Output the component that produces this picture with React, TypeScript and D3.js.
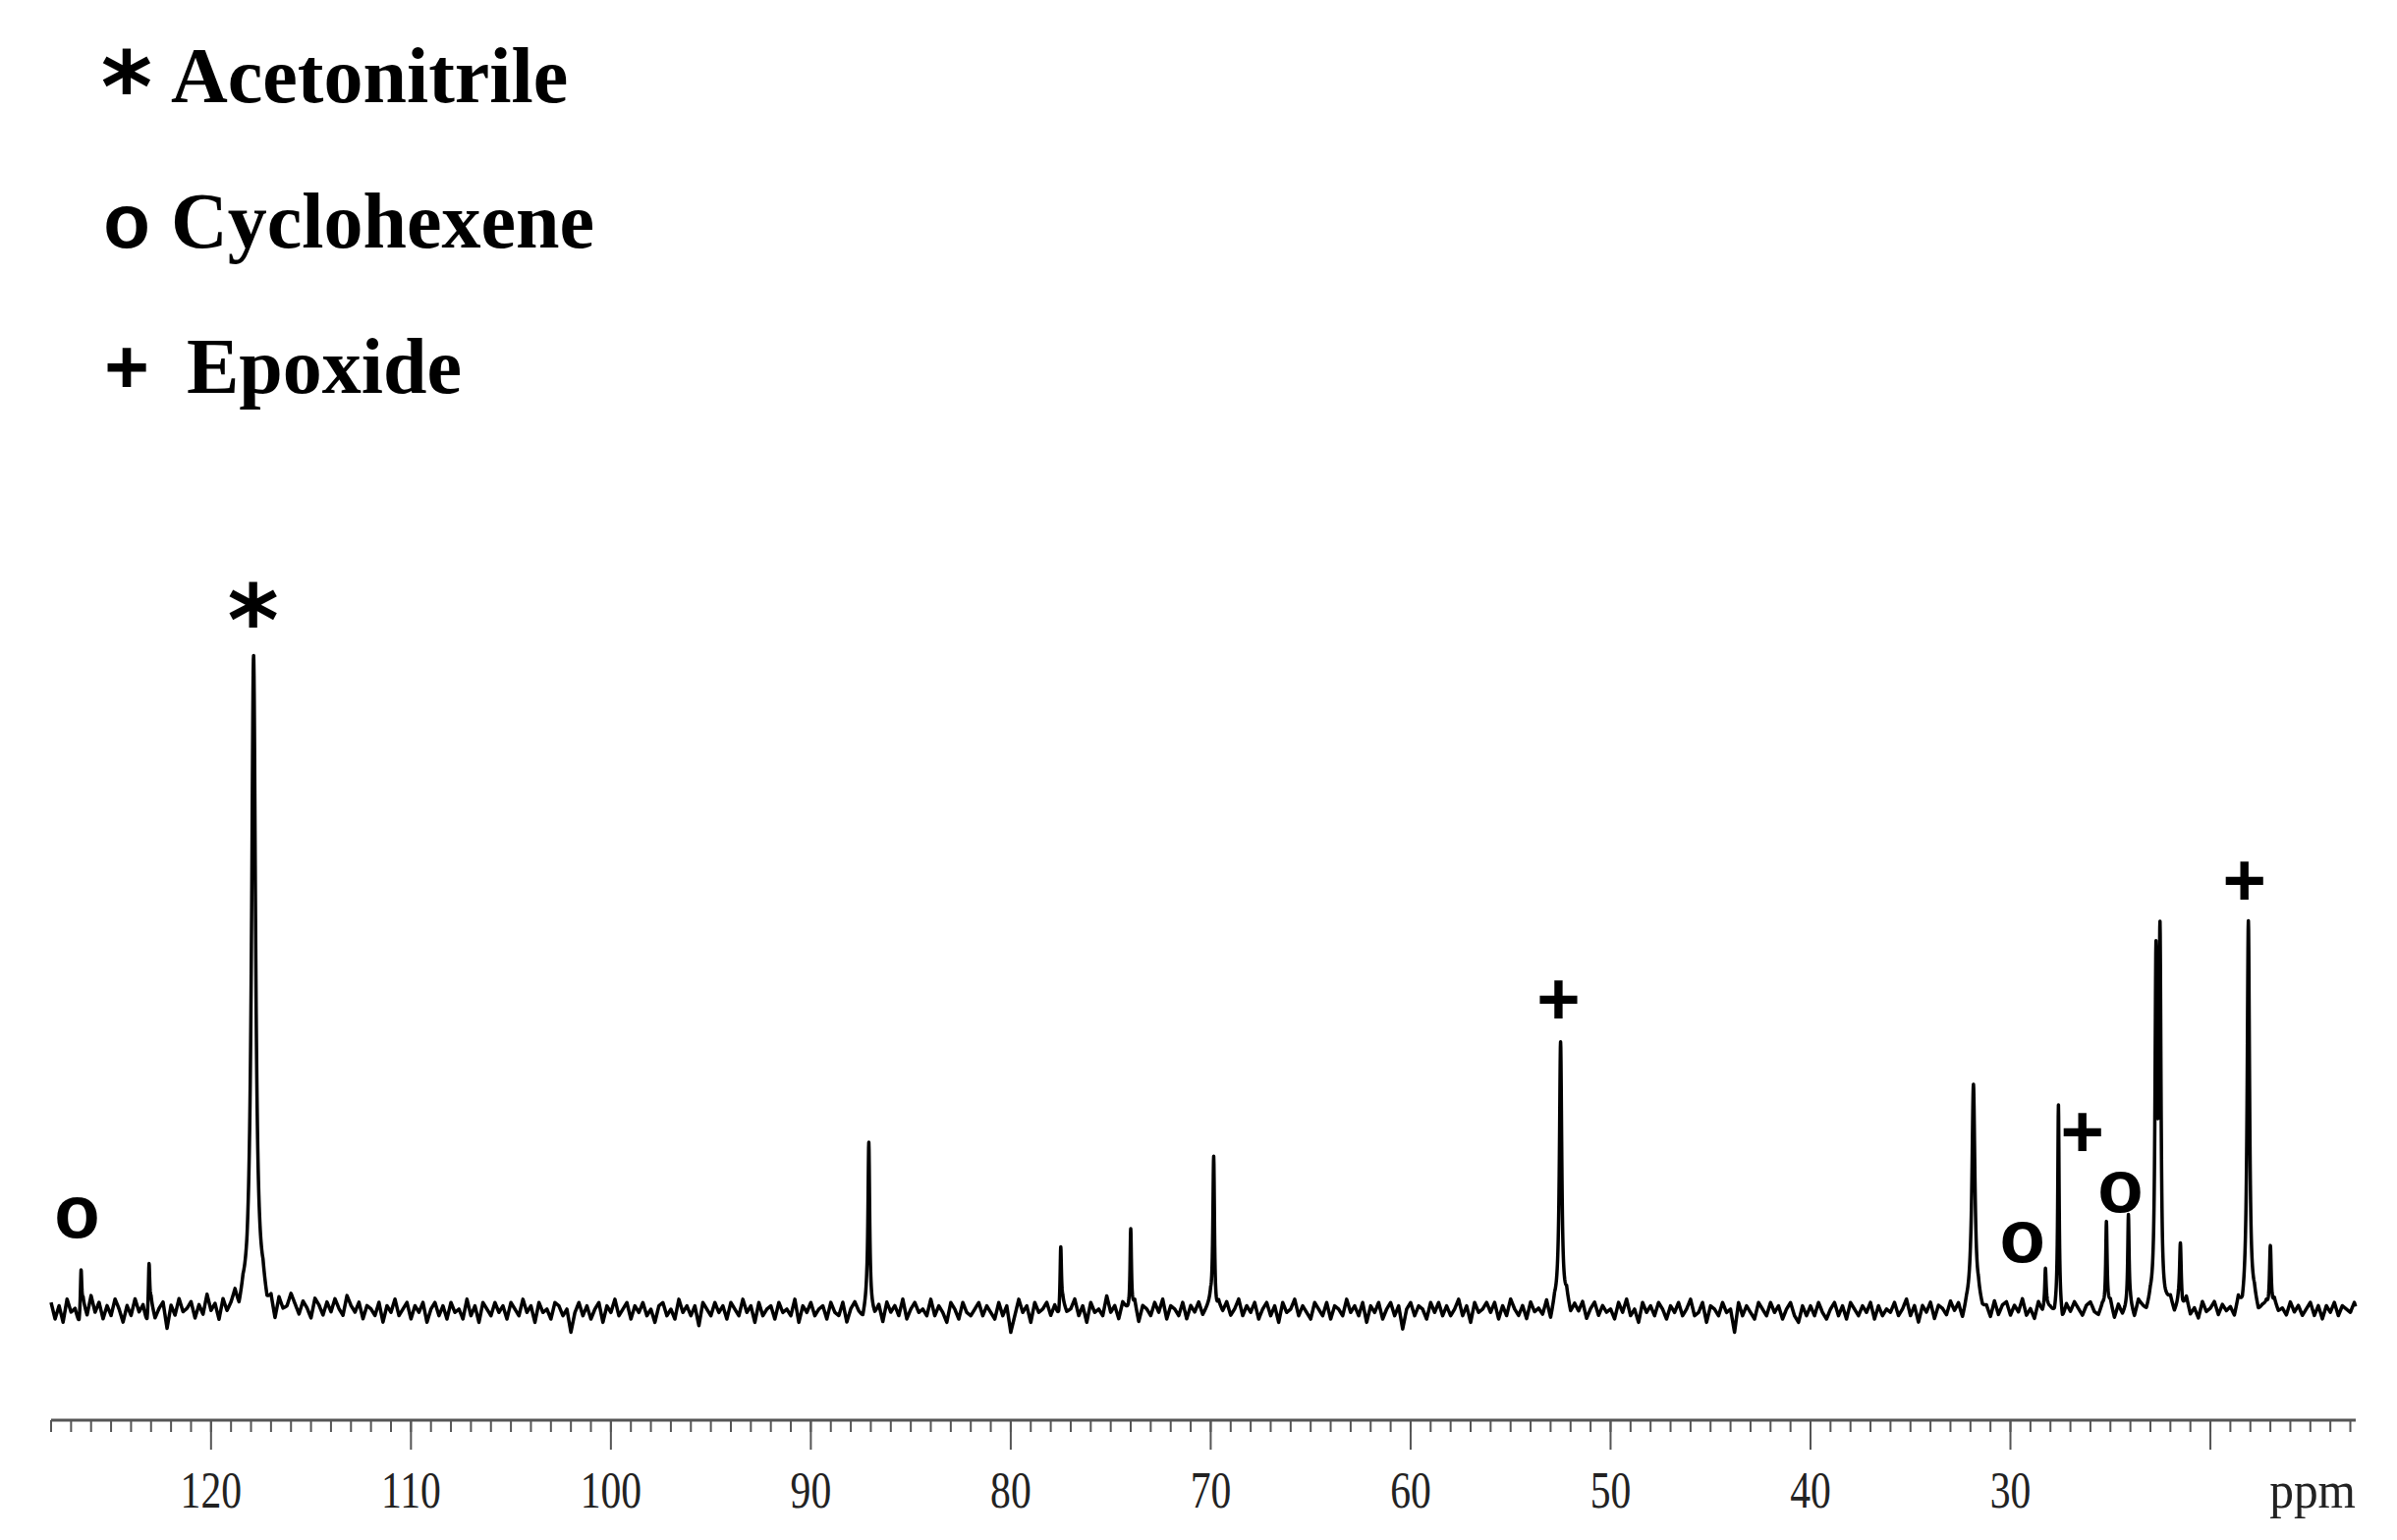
import React from "react";
import * as d3 from "d3";

// legend entries
const legendSymbols = ["*", "o", "+"];
const legendNames = ["Acetonitrile", "Cyclohexene", "Epoxide"];

// peaks (ppm, height with the acetonitrile peak = 100, half width in ppm)
const peakPpm = [126.5, 123.1, 117.87, 87.1, 77.5, 74.0, 69.85, 52.5, 31.85, 28.25, 27.6, 25.2, 24.1, 22.72, 22.52, 21.5, 18.1, 17.0];
const peakHeight = [6.7, 7.6, 100, 24.8, 9.7, 13.2, 24.8, 41, 34.7, 5.8, 29.9, 13.2, 13.9, 51.2, 54.5, 9.7, 58.8, 10.9];
const peakWidth = [0.04, 0.04, 0.12, 0.05, 0.04, 0.04, 0.05, 0.07, 0.09, 0.04, 0.04, 0.04, 0.04, 0.06, 0.06, 0.05, 0.07, 0.05];

// assignment marks above the peaks
const markSymbols = ["*", "o", "+", "o", "+", "o", "+"];
const markPpm = [117.9, 126.7, 52.6, 29.4, 26.4, 24.5, 18.3];
const markLevel = [106.8, 13.8, 47.2, 10.1, 27.1, 17.7, 65.2];

// axis
const majorTicks = [120, 110, 100, 90, 80, 70, 60, 50, 40, 30, 20];
const tickLabels = ["120", "110", "100", "90", "80", "70", "60", "50", "40", "30", ""];
const minorTicks = d3.range(13, 129, 1);

// baseline noise, one value every 0.2 ppm from 128 ppm down
const noiseStart = 128;
const noiseStep = 0.2;
const baselineNoise = [
  1, -1.5, 0.5, -2, 1.5, -0.5, 0, -2.5, 1, -1,
  2, -0.5, 1, -1.5, 0.5, -1, 1.5, 0, -2, 0.5,
  -1, 1.5, -0.5, 0.5, -2.5, 1, -1.5, 0, 1, -3,
  0.5, -1, 1.5, -0.5, 0, 1, -1.5, 0.5, -1, 2,
  -0.5, 0.5, -2, 1, -1, 0, 1.5, -1.5, 0.5, -0.5,
  1, -2, 0, 1.5, -1, 0.5, -2.5, 1, -0.5, 0,
  2, 0.5, -1, 1, 0, -1.5, 1.5, 0.5, -1, 1,
  -0.5, 1.5, 0, -1, 2, 0.5, -0.5, 1, -1.5, 0.5,
  0, -1, 1, -2, 0.5, -0.5, 1.5, -1, 0, 1,
  -1.5, 0.5, -0.5, 1, -2, 0, 1, -1, 0.5, -1.5,
  1, -0.5, 0, -1.5, 1.5, -1, 0.5, -2, 1, 0,
  -1, 1, -0.5, 0.5, -1.5, 1, 0, -1, 1.5, -0.5,
  0.5, -2, 1, -0.5, 0, -1.5, 1, 0.5, -1, 0,
  -3.5, -0.5, 1, -1, 0.5, -1.5, 0, 1, -2, 0.5,
  -0.5, 1.5, -1, 0, 1, -1.5, 0.5, -0.5, 1, -1,
  0, -2, 0.5, 1, -1, 0, -1.5, 1.5, -0.5, 0.5,
  -1, 0.5, -2.5, 1, 0, -1, 1, -0.5, 0.5, -1.5,
  1, 0, -1, 1.5, -0.5, 0.5, -2, 1, -1, 0,
  0.5, -1.5, 1, -0.5, 0, -1, 1.5, -2, 0.5, -0.5,
  1, -1, 0, 0.5, -1.5, 1, -0.5, -1, 1, -2,
  0, 1, -0.5, -1.5, 1, 0, -1, 0.5, -2, 1,
  -0.5, 0.5, -1, 1.5, -1.5, 0, 1, -0.5, 0, -1,
  1.5, -1, 0.5, -0.5, -2, 1, 0, -1.5, 1, -0.5,
  -1, 0, 1, -1, 0.5, -0.5, -1.5, 1, -1, 0.5,
  -3.5, -1, 1.5, -0.5, 0.5, -2, 1, -0.5, 0, 1,
  -1, 0.5, -1.5, 1, -0.5, 0, 1.5, -1, 0.5, -2,
  1, -0.5, 0, -1, 2, -0.5, 0.5, -1.5, 1, 0,
  -1, 1, -2, 0.5, 0, -1, 1, -0.5, 1.5, -1.5,
  0.5, 0, -1, 1, -1.5, 0.5, -0.5, 1, -1, 0,
  1, -2.5, 0.5, -0.5, 1, -1, 0, 1.5, -1, 0.5,
  -0.5, 1, -1.5, 0, 1, -1, 0.5, -2, 1, -0.5,
  0, 1.5, -1, 0.5, -0.5, -1.5, 1, 0, -1, 1,
  -1.5, 0.5, 0, -1, 1.5, -0.5, 0.5, -1, 1, -2,
  0.5, -0.5, 1, -1.5, 0, 1, -1, 0.5, -3, 0,
  1, -1, 0.5, 0, -1.5, 1, -0.5, 1, -1, 0.5,
  -1, 0, 1.5, -1, 0.5, -2, 1, -0.5, 0, 1,
  -0.5, 1, -1.5, 0.5, -1, 1.5, 0, -1, 0.5, -1.5,
  1, -0.5, 0, -1, 1, -2, 0.5, 0, -1, 1.5,
  -1, 0.5, -0.5, 1, -1.5, 0, 1, -1, 0.5, -0.5,
  0, -1.5, 1, -0.5, 1.5, -1, 0, -2, 1, -0.5,
  0.5, -1, 1, 0, -1.5, 0.5, -0.5, 1, -1, 0,
  1.5, -1, -0.5, 1, -2, 0.5, 0, -1, 1, -0.5,
  0, -3.5, 1, -1, 0.5, -0.5, -1.5, 1, 0, -1,
  1, -0.5, 0.5, -1.5, 0, 1, -1, -2, 0.5, -1,
  0.5, -1, 1, -0.5, -1.5, 0, 1, -1, 0.5, -1.5,
  1, 0, -1, 0.5, -0.5, 1, -1.5, 0.5, -1, 0,
  -0.5, 1, -1, 0, 1.5, -1, 0.5, -2, 0.5, -0.5,
  1, -1.5, 0.5, 0, -1, 1, -0.5, 0.5, -2, 0,
  0.5, -1, 1, -0.5, 0, -1.5, 1, -1, 0.5, 1,
  -1, 0.5, -0.5, 1.5, -1, 0, -1.5, 1, -0.5, 0.5,
  0, -1, 1, -2, 0.5, -0.5, 1, 0, -1, 0.5,
  1, -0.5, -1, 0.5, 0, 1, -1.5, 0.5, -1, 0,
  0.5, -1.5, 1, 0, -1, 0.5, -0.5, 1, -1.5, 0,
  1, -1, 0.5, -0.5, 1.5, -1, 0, -1.5, 1, -0.5,
  0, 1, -1, 0.5, -0.5, 0, -1.5, 1, -1, 0.5,
  -0.5, 1, -1, 0, 0.5, -1.5, 1, -0.5, 0, -1,
  1, -0.5, 0.5, -1, 0, 1, -1, 0.5, -1.5, 0.5,
  -0.5, 1, -1, 0.5, 0, -0.5, 1, -1, 0.5, 0,
];

const width = 2440;
const height = 1568;

const x = d3.scaleLinear().domain([128, 12.73]).range([52, 2398]);
const y = d3.scaleLinear().domain([0, 100]).range([1333, 661]);
const axisY = 1446;

function noiseAt(p: number) {
  const f = (noiseStart - p) / noiseStep;
  const i = Math.max(0, Math.min(baselineNoise.length - 2, Math.floor(f)));
  const t = Math.min(1, Math.max(0, f - i));
  return baselineNoise[i] * (1 - t) + baselineNoise[i + 1] * t;
}

function intensity(p: number) {
  let v = noiseAt(p);
  peakPpm.forEach((p0, k) => {
    const w = peakWidth[k];
    v += (peakHeight[k] * w * w) / ((p - p0) * (p - p0) + w * w);
  });
  return v;
}

const samplePpm = d3.range(128, 12.73, -0.01);
const spectrum: [number, number][] = samplePpm.map((p) => [p, intensity(p)]);

const line = d3
  .line<[number, number]>()
  .x((d) => x(d[0]))
  .y((d) => y(d[1]));

const sans = "'Liberation Sans', Arial, sans-serif";
const serif = "'Liberation Serif', 'Times New Roman', serif";
const starFont = "'DejaVu Sans', sans-serif";
const starSize = 100;

export default function App() {
  return (
    <svg
      width={width}
      height={height}
      style={{ position: "absolute", left: 0, top: 0, background: "#fff" }}
    >
      {/* legend */}
      {legendNames.map((name, i) => {
        const base = 104 + i * 148;
        const sym = legendSymbols[i];
        const star = sym === "*";
        return (
          <g key={name}>
            <text
              x={129}
              y={star ? 72 + 0.52 * starSize : base}
              textAnchor="middle"
              fontFamily={star ? starFont : sans}
              fontWeight="bold"
              fontSize={star ? starSize : 78}
            >
              {sym}
            </text>
            <text
              x={i === 2 ? 190 : 174}
              y={base}
              fontFamily={serif}
              fontWeight="bold"
              fontSize={80}
            >
              {name}
            </text>
          </g>
        );
      })}

      {/* spectrum */}
      <path
        d={line(spectrum) || ""}
        fill="none"
        stroke="#000"
        strokeWidth={3.5}
        strokeLinejoin="round"
      />

      {/* assignment marks */}
      {markSymbols.map((s, i) => (
        <text
          key={i}
          x={x(markPpm[i])}
          y={y(markLevel[i]) + (s === "*" ? 0.52 * starSize : s === "o" ? 20 : 27)}
          textAnchor="middle"
          fontFamily={s === "*" ? starFont : sans}
          fontWeight="bold"
          fontSize={s === "*" ? starSize : 76}
        >
          {s}
        </text>
      ))}

      {/* axis */}
      <g stroke="#555" fill="none">
        <line x1={x(128)} x2={x(12.73)} y1={axisY} y2={axisY} strokeWidth={3} />
        {minorTicks.map((t) => (
          <line key={t} x1={x(t)} x2={x(t)} y1={axisY} y2={axisY + 12} strokeWidth={2} />
        ))}
        {majorTicks.map((t) => (
          <line key={t} x1={x(t)} x2={x(t)} y1={axisY} y2={axisY + 30} strokeWidth={2} />
        ))}
      </g>
      {majorTicks.map((t, i) => (
        <text
          key={t}
          transform={`translate(${x(t)},1535) scale(0.8,1)`}
          textAnchor="middle"
          fontFamily={serif}
          fontSize={52}
          fill="#222"
        >
          {tickLabels[i]}
        </text>
      ))}
      <text
        transform={`translate(${x(12.73)},1535) scale(0.95,1)`}
        textAnchor="end"
        fontFamily={serif}
        fontSize={52}
        fill="#222"
      >
        ppm
      </text>
    </svg>
  );
}
